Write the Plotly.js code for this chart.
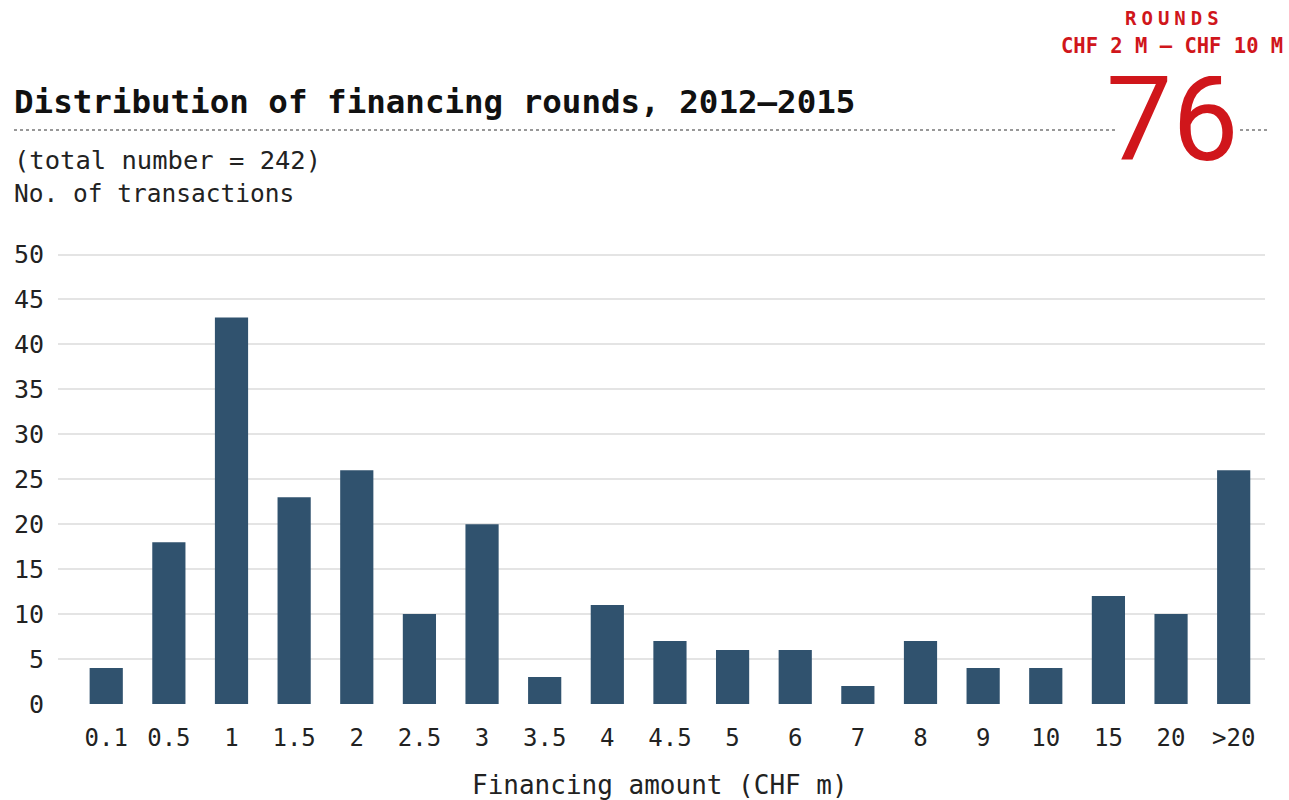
<!DOCTYPE html>
<html>
<head>
<meta charset="utf-8">
<script src="https://cdn.plot.ly/plotly-3.0.1.min.js"></script>
<style>
html,body{margin:0;padding:0;background:#fff;}
#chart{width:1289px;height:800px;}
g.annotation[data-index="4"] text{letter-spacing:5px;}
</style>
</head>
<body>
<div id="chart"></div>
<script>
// Data
const categories = ["0.1","0.5","1","1.5","2","2.5","3","3.5","4","4.5","5","6","7","8","9","10","15","20",">20"];
const transactions = [4,18,43,23,26,10,20,3,11,7,6,6,2,7,4,4,12,10,26];
const yTicks = [0,5,10,15,20,25,30,35,40,45,50];
const titleText = "Distribution of financing rounds, 2012\u20132015";
const subtitleText = "(total number = 242)";
const yLabelText = "No. of transactions";
const xLabelText = "Financing amount (CHF m)";
const calloutLabel1 = "ROUNDS";
const calloutLabel2 = "CHF 2 M \u2014 CHF 10 M";
const calloutValue = "76";

const W = 1289, H = 800;
const L = 58, R = 24, T = 250, B = 96;
const pw = W - L - R, ph = H - T - B;
const px = x => (x - L) / pw;
const py = y => (H - B - y) / ph;

const mono = "DejaVu Sans Mono, monospace";
const red = "#d0161b";

const trace = {
  type: "bar",
  x: categories,
  y: transactions,
  marker: {color: "#30526e", line: {width: 0}},
  hoverinfo: "x+y"
};

const layout = {
  width: W, height: H,
  margin: {l: L, r: R, t: T, b: B, pad: 0},
  paper_bgcolor: "#fff",
  plot_bgcolor: "#fff",
  showlegend: false,
  bargap: 0.47,
  xaxis: {
    type: "category",
    range: [-0.77, 18.5],
    showgrid: false,
    showline: false,
    zeroline: false,
    ticks: "",
    tickfont: {family: mono, size: 24, color: "#222"},
    ticklabelstandoff: 17,
    fixedrange: true
  },
  yaxis: {
    range: [0, 50.5],
    tickvals: yTicks,
    ticktext: yTicks.map(String),
    showgrid: true,
    gridcolor: "#e4e4e4",
    gridwidth: 2,
    zeroline: false,
    showline: false,
    ticks: "",
    tickfont: {family: mono, size: 25, color: "#222"},
    ticklabelstandoff: 13,
    fixedrange: true
  },
  shapes: [
    {type: "line", xref: "paper", yref: "paper", x0: px(14), x1: px(1118), y0: py(130), y1: py(130),
     line: {color: "#777", width: 1.5, dash: "dot"}},
    {type: "line", xref: "paper", yref: "paper", x0: px(1240), x1: px(1267), y0: py(130), y1: py(130),
     line: {color: "#777", width: 1.5, dash: "dot"}}
  ],
  annotations: [
    {text: "<b>" + titleText + "</b>", xref: "paper", yref: "paper", x: px(12), y: py(102),
     xanchor: "left", yanchor: "middle", showarrow: false,
     font: {family: mono, size: 32.5, color: "#111"}},
    {text: subtitleText, xref: "paper", yref: "paper", x: px(12), y: py(160),
     xanchor: "left", yanchor: "middle", showarrow: false,
     font: {family: mono, size: 25.5, color: "#222"}},
    {text: yLabelText, xref: "paper", yref: "paper", x: px(12), y: py(193),
     xanchor: "left", yanchor: "middle", showarrow: false,
     font: {family: mono, size: 24.5, color: "#222"}},
    {text: xLabelText, xref: "paper", yref: "paper", x: px(660), y: py(785),
     xanchor: "center", yanchor: "middle", showarrow: false,
     font: {family: mono, size: 26, color: "#222"}},
    {text: "<b>" + calloutLabel1 + "</b>", xref: "paper", yref: "paper", x: px(1174), y: py(18),
     xanchor: "center", yanchor: "middle", showarrow: false,
     font: {family: mono, size: 19, color: red}},
    {text: "<b>" + calloutLabel2 + "</b>", xref: "paper", yref: "paper", x: px(1172), y: py(46),
     xanchor: "center", yanchor: "middle", showarrow: false,
     font: {family: mono, size: 20.5, color: red}},
    {text: calloutValue, xref: "paper", yref: "paper", x: px(1172), y: py(120),
     xanchor: "center", yanchor: "middle", showarrow: false, height: 88,
     font: {family: "Roboto, sans-serif", size: 118, color: red}}
  ]
};

Plotly.newPlot("chart", [trace], layout, {displayModeBar: false, staticPlot: true});
</script>
</body>
</html>
